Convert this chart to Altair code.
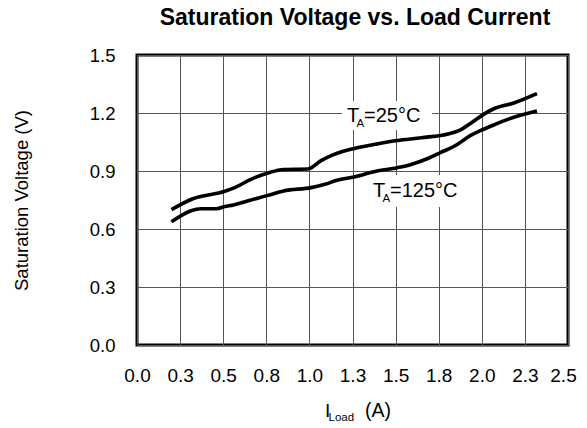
import altair as alt
import pandas as pd

# 25 °C curve
x25 = [0.20, 0.32, 0.51, 0.57, 0.66, 0.76, 0.85, 0.99, 1.07, 1.14, 1.26, 1.38,
       1.51, 1.65, 1.81, 1.87, 1.94, 2.01, 2.07, 2.19, 2.32]
v25 = [0.700, 0.755, 0.795, 0.815, 0.857, 0.890, 0.908, 0.910, 0.955, 0.985,
       1.017, 1.038, 1.058, 1.072, 1.093, 1.110, 1.150, 1.193, 1.222, 1.253, 1.300]
# 125 °C curve
x125 = [0.20, 0.31, 0.37, 0.46, 0.51, 0.56, 0.64, 0.76, 0.85, 1.01, 1.09, 1.16,
        1.26, 1.38, 1.51, 1.59, 1.69, 1.76, 1.86, 1.92, 2.01, 2.07, 2.15, 2.32]
v125 = [0.637, 0.693, 0.705, 0.705, 0.716, 0.724, 0.745, 0.774, 0.797, 0.814,
        0.831, 0.852, 0.869, 0.897, 0.917, 0.934, 0.966, 0.995, 1.038, 1.076,
        1.116, 1.138, 1.167, 1.210]

x_ticks = [0, 0.25, 0.5, 0.75, 1.0, 1.25, 1.5, 1.75, 2.0, 2.25, 2.5]
y_ticks = [0, 0.3, 0.6, 0.9, 1.2, 1.5]

# curve labels (T_A=..)
label_main = ["T", "T"]
label_sub = ["A", "A"]
label_rest = ["=25°C", "=125°C"]
label_x = [1.218, 1.369]
label_y = [1.154, 0.766]
box_x1 = [1.189, 1.340]
box_x2 = [1.711, 1.891]
box_y1 = [1.112, 0.714]
box_y2 = [1.262, 0.879]

title_text = ["Saturation Voltage vs. Load Current"]

FONT = "Liberation Sans"

curves = pd.concat([
    pd.DataFrame({"x": x25, "v": v25, "s": "25"}),
    pd.DataFrame({"x": x125, "v": v125, "s": "125"}),
])
labels = pd.DataFrame({"x": label_x, "y": label_y, "main": label_main,
                       "sub": label_sub, "rest": label_rest,
                       "x1": box_x1, "x2": box_x2, "y1": box_y1, "y2": box_y2})

xscale = alt.Scale(domain=[0, 2.5], nice=False, zero=False)
yscale = alt.Scale(domain=[0, 1.5], nice=False, zero=False)

lines = alt.Chart(curves).mark_line(color="black", strokeWidth=3.6,
                                    interpolate="monotone").encode(
    x=alt.X("x:Q", scale=xscale,
            axis=alt.Axis(values=x_ticks, format=".1f", title=None,
                          labelPadding=21, labelFontSize=19, labelFlush=False,
                          labelOverlap=False,
                          labelOffset={"condition": {"test": "datum.value > 2.4",
                                                     "value": -5},
                                       "value": 0})),
    y=alt.Y("v:Q", scale=yscale,
            axis=alt.Axis(values=y_ticks, format=".1f",
                          title="Saturation Voltage (V)", labelPadding=22,
                          labelFontSize=18.5, labelFlush=False,
                          labelOverlap=False,
                          titleX=-116, titleY=145, titleBaseline="middle",
                          titleFontSize=18.5, titleFontWeight="normal")),
    detail="s:N",
)

boxes = alt.Chart(labels).mark_rect(color="white").encode(
    x=alt.X("x1:Q", scale=xscale), x2="x2:Q",
    y=alt.Y("y1:Q", scale=yscale), y2="y2:Q",
)

t_main = alt.Chart(labels).mark_text(font=FONT, fontSize=20, align="left",
                                     baseline="alphabetic").encode(
    x=alt.X("x:Q", scale=xscale), y=alt.Y("y:Q", scale=yscale), text="main:N")
t_sub = alt.Chart(labels).mark_text(font=FONT, fontSize=11.5, align="left",
                                    baseline="alphabetic", dx=9.5, dy=5).encode(
    x=alt.X("x:Q", scale=xscale), y=alt.Y("y:Q", scale=yscale), text="sub:N")
t_rest = alt.Chart(labels).mark_text(font=FONT, fontSize=20, align="left",
                                     baseline="alphabetic", dx=17).encode(
    x=alt.X("x:Q", scale=xscale), y=alt.Y("y:Q", scale=yscale), text="rest:N")

# x-axis title with subscript
xt = pd.DataFrame({"t": ["I"], "s": ["Load"], "u": ["(A)"]})
xt_i = alt.Chart(xt).mark_text(font=FONT, fontSize=19, align="left",
                               baseline="alphabetic").encode(
    x=alt.value(188), y=alt.value(362), text="t:N")
xt_s = alt.Chart(xt).mark_text(font=FONT, fontSize=11.5, align="left",
                               baseline="alphabetic").encode(
    x=alt.value(191.5), y=alt.value(366), text="s:N")
xt_u = alt.Chart(xt).mark_text(font=FONT, fontSize=19.5, align="left",
                               baseline="alphabetic").encode(
    x=alt.value(228), y=alt.value(362), text="u:N")

# chart title
tt = pd.DataFrame({"t": title_text})
title = alt.Chart(tt).mark_text(font=FONT, fontSize=23, fontWeight="bold",
                                align="center", baseline="alphabetic").encode(
    x=alt.value(218), y=alt.value(-30), text="t:N")

chart = alt.layer(boxes, lines, t_main, t_sub, t_rest, xt_i, xt_s, xt_u,
                  title).properties(
    width=431, height=290,
    autosize=alt.AutoSizeParams(type="none"),
    padding={"left": 129, "top": 47, "right": 11, "bottom": 78},
).configure_view(stroke="black", strokeWidth=3).configure_axis(
    domain=False, ticks=False, grid=True, gridColor="#555", gridWidth=1,
    gridOpacity=1, labelFont=FONT, labelColor="black",
    titleFont=FONT, titleColor="black",
)

chart.save("out.html", embed_options={"renderer": "svg", "actions": False})
